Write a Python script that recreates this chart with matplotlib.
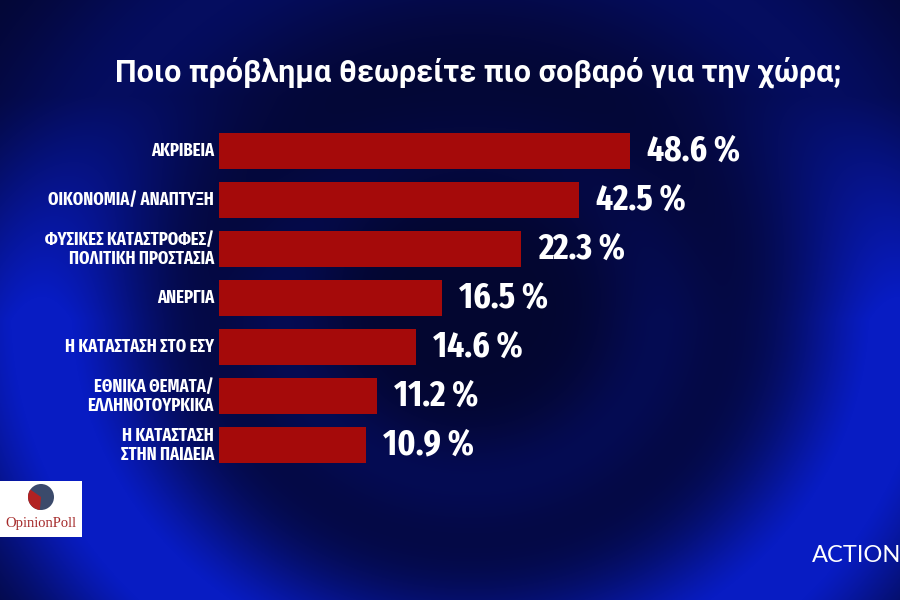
import numpy as np
import matplotlib
matplotlib.use('Agg')
import matplotlib.pyplot as plt
from matplotlib.patches import Rectangle, Wedge

# survey results (labels as printed on the graphic)
categories = [
    "ΑΚΡΙΒΕΙΑ",
    "ΟΙΚΟΝΟΜΙΑ/ ΑΝΑΠΤΥΞΗ",
    "ΦΥΣΙΚΕΣ ΚΑΤΑΣΤΡΟΦΕΣ/\nΠΟΛΙΤΙΚΗ ΠΡΟΣΤΑΣΙΑ",
    "ΑΝΕΡΓΙΑ",
    "Η ΚΑΤΑΣΤΑΣΗ ΣΤΟ ΕΣΥ",
    "ΕΘΝΙΚΑ ΘΕΜΑΤΑ/\nΕΛΛΗΝΟΤΟΥΡΚΙΚΑ",
    "Η ΚΑΤΑΣΤΑΣΗ\nΣΤΗΝ ΠΑΙΔΕΙΑ",
]
values = [48.6, 42.5, 22.3, 16.5, 14.6, 11.2, 10.9]
# the TV graphic does not draw bars to scale, these are the lengths as drawn
bar_lengths = [48.6, 42.5, 35.7, 26.4, 23.3, 18.7, 17.4]
title = "Ποιο πρόβλημα θεωρείτε πιο σοβαρό για την χώρα;"

W, H = 900, 600
fig = plt.figure(figsize=(9, 6), dpi=100)

# background swirl
bg = fig.add_axes([0, 0, 1, 1])
yy, xx = np.mgrid[0:H, 0:W]
r = np.hypot((xx - 470) / 1.1, yy - 310)
glow = np.exp(-((r - 390) / 100) ** 2) * 0.95
glow += np.exp(-((r - 170) / 55) ** 2) * 0.2
glow *= np.clip(yy / 320, 0.3, 1.0)
glow += 0.12
glow = np.clip(glow, 0, 1)
dark = np.array([3, 3, 28]) / 255
bright = np.array([8, 28, 195]) / 255
img = dark + glow[..., None] * (bright - dark)
bg.imshow(img, extent=[0, W, H, 0], aspect='auto')
bg.set_xlim(0, W)
bg.set_ylim(H, 0)
bg.axis('off')

narrow = ['Fira Sans Extra Condensed', 'DejaVu Sans']

# bars
px = 411.4 / 48.6
ax = fig.add_axes([219 / W, 1 - 469.5 / H, 60 * px / W, 343 / H])
ax.set_xlim(0, 60)
ax.set_ylim(len(categories) - 0.5, -0.5)
ax.axis('off')
ypos = np.arange(len(categories))
ax.barh(ypos, bar_lengths, height=0.735, color='#a50a0a', edgecolor='none')

for i, (cat, v, L) in enumerate(zip(categories, values, bar_lengths)):
    ax.text(-0.6, i, cat, ha='right', va='center', color='white',
            fontsize=13, fontweight='bold', family=narrow, linespacing=1.1)
    ax.text(L + 2.0, i, f"{v} %", ha='left', va='center', color='white',
            fontsize=26, fontweight='bold', family=narrow)

fig.text(478 / W, 1 - 72 / H, title, ha='center', va='center', color='white',
         fontsize=22, fontweight='bold', family=['Roboto', 'DejaVu Sans'])

# OpinionPoll logo
bg.add_patch(Rectangle((0, 481), 82, 56, facecolor='white', edgecolor='none'))
bg.add_patch(Wedge((41, 497), 13, 0, 360, facecolor='#3b4a6b'))
bg.add_patch(Wedge((41, 497), 13, 95, 215, facecolor='#b22222'))
bg.text(41, 523, "OpinionPoll", ha='center', va='center', color='#a52a2a',
        fontsize=10.5, family='Liberation Serif')

# channel logo
fig.text(812 / W, 1 - 556 / H, "ACTION", ha='left', va='center', color='white',
         fontsize=17, family=['Lato', 'DejaVu Sans'])

fig.savefig('out.png', dpi=100)
